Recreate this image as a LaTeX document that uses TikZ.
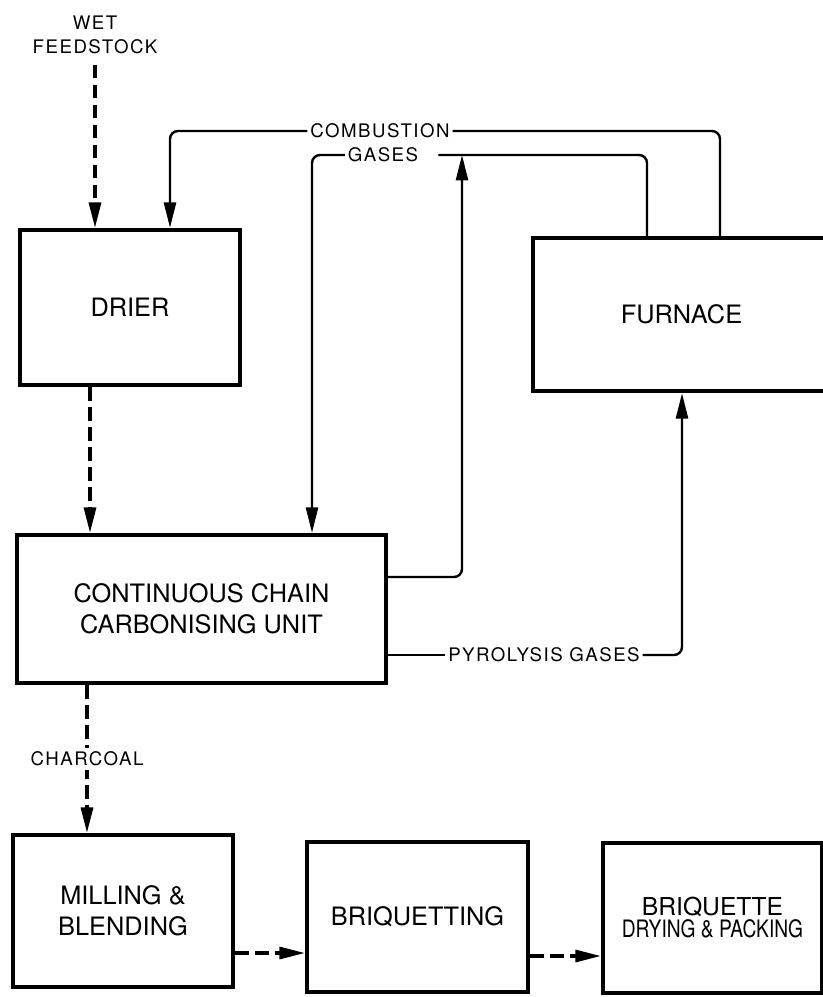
\documentclass[tikz,border=0pt]{standalone}
\usepackage{fontspec}
\setmainfont{TeX Gyre Heros}
\newfontfamily\lblfont[LetterSpace=8]{TeX Gyre Heros}
\usetikzlibrary{arrows.meta}
\begin{document}
\begin{tikzpicture}[x=0.75pt,y=-0.75pt,
  box/.style={draw, line width=3.3pt, align=center, font=\fontsize{19}{23}\selectfont, inner sep=0pt},
  lbl/.style={font=\lblfont\fontsize{14}{18}\selectfont, inner sep=2pt, align=center},
  flow/.style={line width=1.8pt, rounded corners=6pt},
  dflow/.style={line width=2.3pt, dash pattern=on 10pt off 5pt},
  tip/.style={-{Triangle[length=19pt,width=9pt]}}
]
\useasboundingbox (0,0) rectangle (823,997);

% boxes
\node[box, minimum width=165pt, minimum height=116.25pt] (drier) at (130,307.5) {DRIER};
\node[box, minimum width=222.75pt, minimum height=114.75pt] (furnace) at (681.5,314.5) {FURNACE};
\node[box, minimum width=276.75pt, minimum height=111pt] (carb) at (201.5,609) {CONTINUOUS CHAIN\\CARBONISING UNIT};
\node[box, minimum width=165pt, minimum height=114pt] (mill) at (123,911) {MILLING \&\\BLENDING};
\node[box, minimum width=165.75pt, minimum height=112.5pt] (briq) at (417.5,917) {BRIQUETTING};
\node[box, minimum width=164.25pt, minimum height=112.5pt, font=\fontsize{18.5}{16.5}\selectfont] (dry) at (712.5,918)
  {BRIQUETTE\\\scalebox{0.8}[1]{\fontsize{18}{16}\selectfont DRYING \& PACKING}};

% labels
\node[lbl] (wet) at (95,35) {WET\\FEEDSTOCK};
\node[lbl] (comb) at (380,131) {COMBUSTION};
\node[lbl] (gases) at (383,155) {GASES};
\node[lbl] (pyro) at (544,655) {PYROLYSIS GASES};

% helper coordinates
\coordinate (xc1) at (720,131);
\coordinate (xc2) at (170,131);
\coordinate (xg1) at (647,155);
\coordinate (xg2) at (312,155);
\coordinate (xup) at (462,577);
\coordinate (xpy) at (682,655);
\coordinate (xd) at (90,0);
\coordinate (xch) at (87,0);
\coordinate (ym) at (0,953);
\coordinate (yb) at (0,956);

% solid gas flows
\draw[flow] (furnace.north -| xc1) -- (xc1) -- (comb.east);
\draw[flow, tip] (comb.west) -- (xc2) -- (drier.north -| xc2);
\draw[flow, shorten >=13pt] (furnace.north -| xg1) -- (xg1) -- (gases.east);
\draw[flow, tip] (gases.west) -- (xg2) -- (carb.north -| xg2);
\draw[flow, tip] (carb.east |- xup) -- (xup) -- (xup |- gases);
\draw[flow] (carb.east |- pyro) -- (pyro.west);
\draw[flow, tip] (pyro.east) -- (xpy) -- (furnace.south -| xpy);

% dashed material flows
\draw[dflow, tip, shorten <=6pt] (wet.south) -- (wet.south |- drier.north);
\draw[dflow, tip] (drier.south -| xd) -- (carb.north -| xd);
\draw[dflow, tip] (carb.south -| xch) -- node[lbl, fill=white, inner sep=3pt] (charcoal) {CHARCOAL} (mill.north -| xch);
\draw[dflow, tip] (mill.east |- ym) -- (briq.west |- ym);
\draw[dflow, tip] (briq.east |- yb) -- (dry.west |- yb);
\end{tikzpicture}
\end{document}
